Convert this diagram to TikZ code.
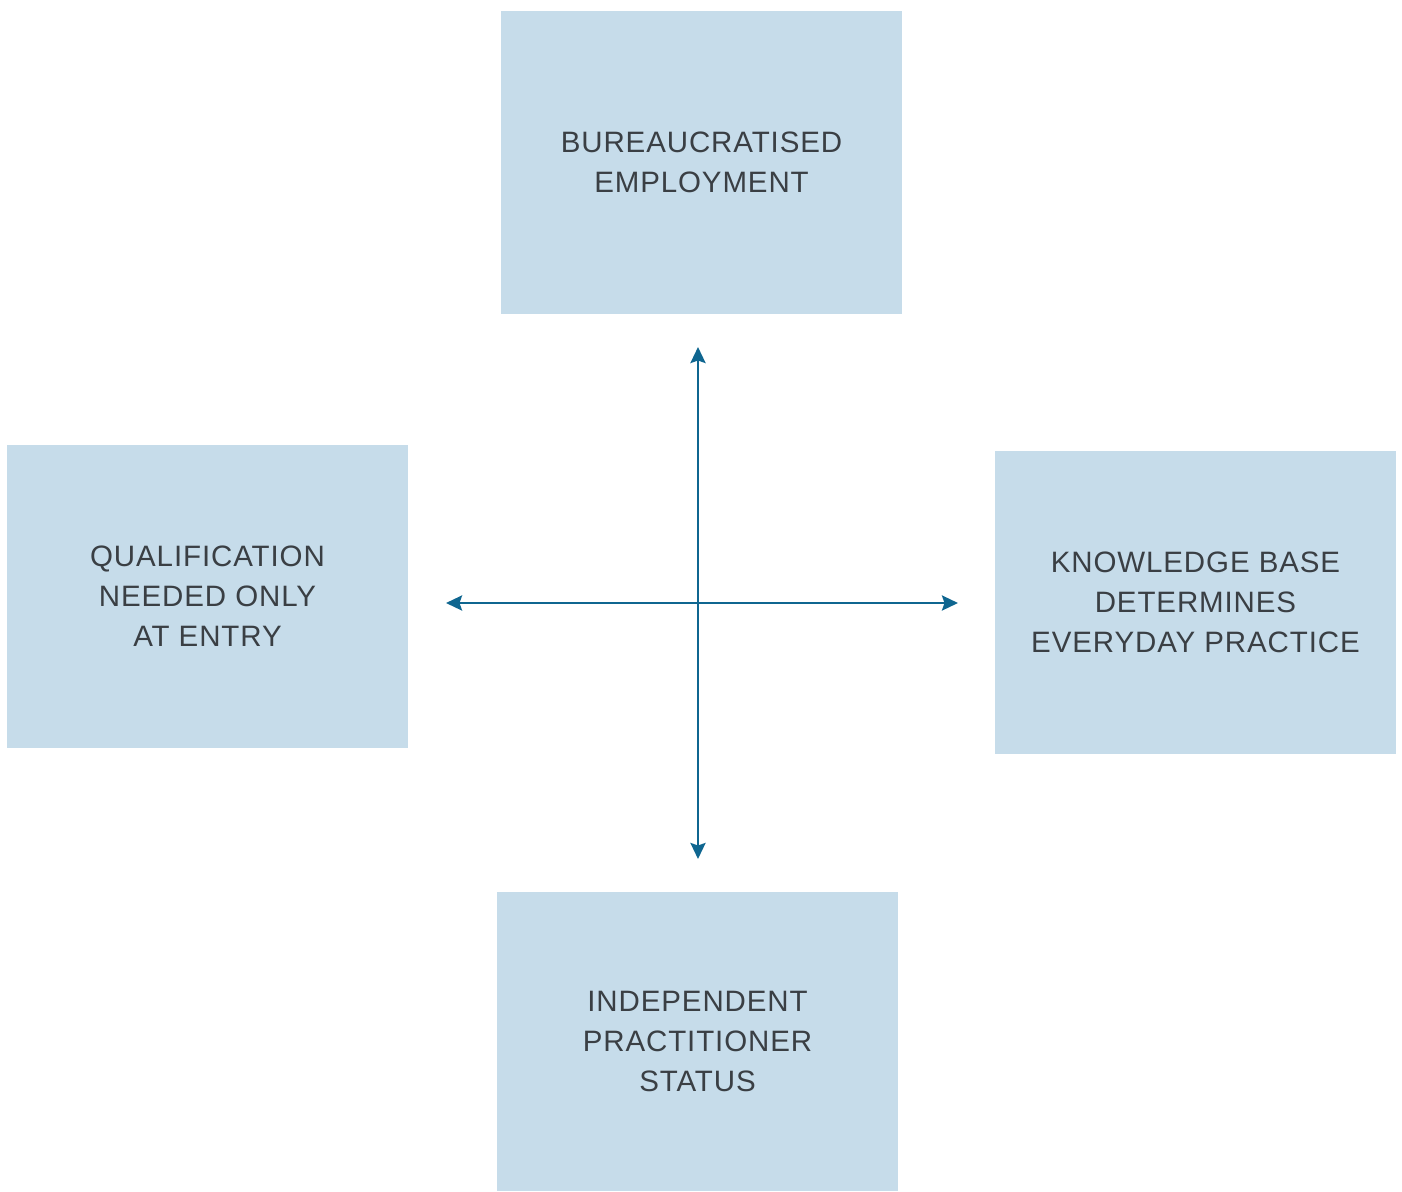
\documentclass[tikz,border=0pt]{standalone}
\usepackage{fontspec}
\setmainfont{Liberation Sans}[LetterSpace=3]
\usetikzlibrary{arrows.meta}
\definecolor{boxfill}{HTML}{C6DCEA}
\definecolor{txt}{HTML}{3A3F44}
\definecolor{arr}{HTML}{0F6690}
\tikzset{
  box/.style={fill=boxfill, draw=none, minimum width=401pt, minimum height=303pt, inner sep=0pt,
    align=center, text=txt, font=\fontsize{29.5}{40}\selectfont},
  axis/.style={draw=arr, line width=2.6pt, {Stealth[length=16pt,width=15pt,inset=2.5pt]}-{Stealth[length=16pt,width=15pt,inset=2.5pt]}}
}
\begin{document}
\begin{tikzpicture}[x=1pt,y=-1pt]
\useasboundingbox (0,0) rectangle (1402,1191);
\node[box] (top) at (701.5,162.5) {BUREAUCRATISED\\EMPLOYMENT};
\node[box] (left) at (207.5,596.5) {QUALIFICATION\\NEEDED ONLY\\AT ENTRY};
\node[box] (right) at (1195.5,602.5) {KNOWLEDGE BASE\\DETERMINES\\EVERYDAY PRACTICE};
\node[box, minimum height=299pt] (bottom) at (697.5,1041.5) {INDEPENDENT\\PRACTITIONER\\STATUS};
\coordinate (vt) at (698,347);
\coordinate (vb) at (698,859);
\coordinate (hl) at (446,603);
\coordinate (hr) at (958,603);
\draw[axis] (vt) -- (vb);
\draw[axis] (hl) -- (hr);
\end{tikzpicture}
\end{document}
